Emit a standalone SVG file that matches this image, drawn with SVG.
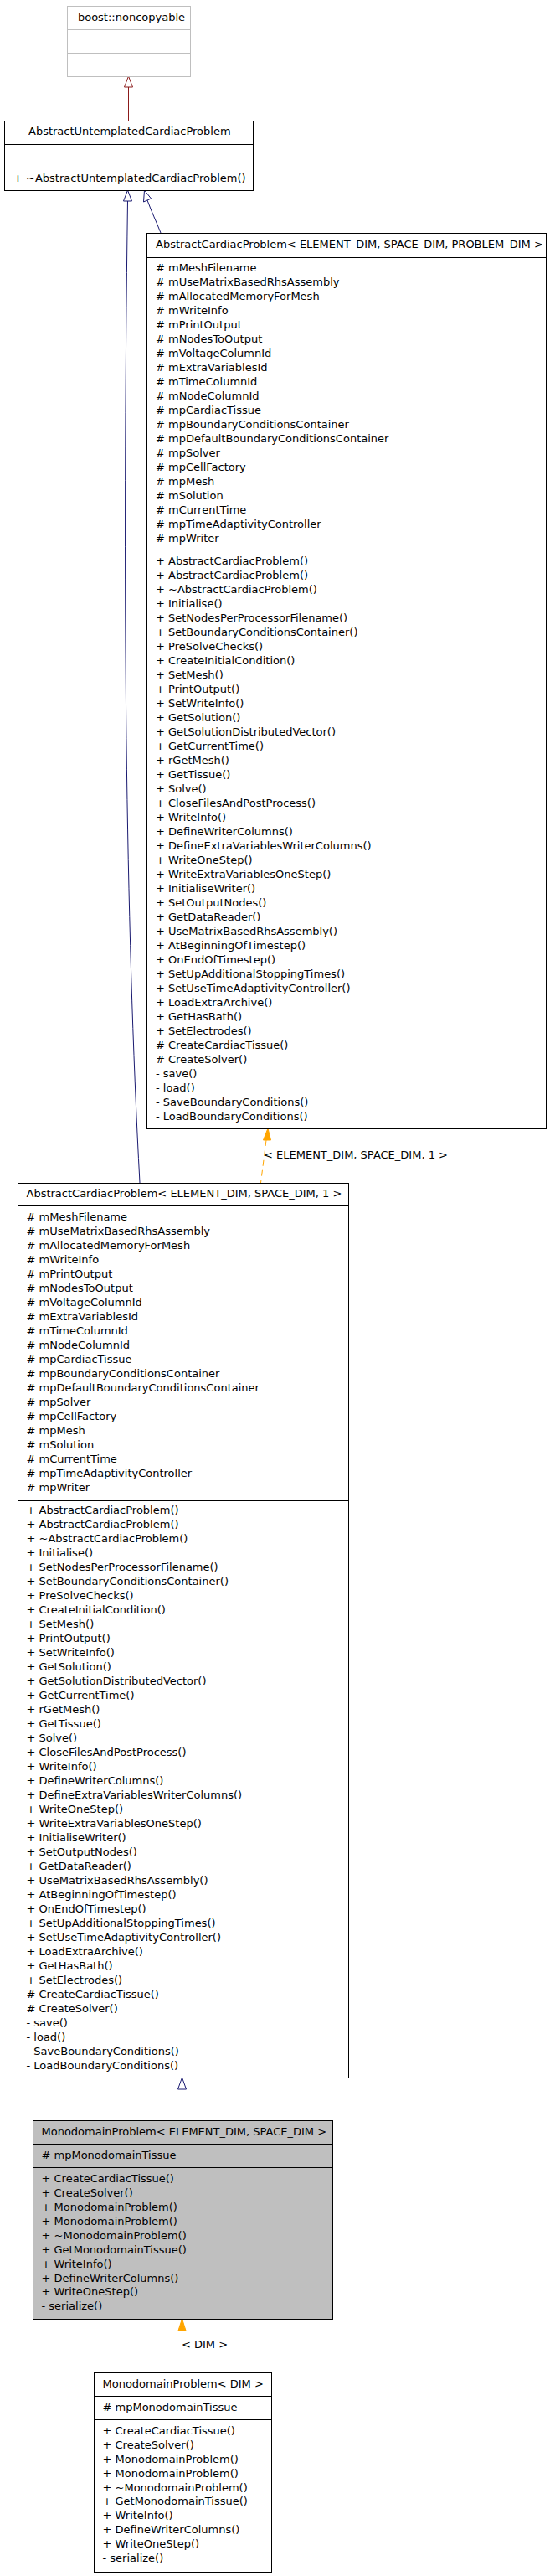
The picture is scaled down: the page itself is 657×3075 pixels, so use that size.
<svg xmlns="http://www.w3.org/2000/svg" width="657" height="3075" viewBox="0 0 657 3075">
<style>
.box{fill:#ffffff;stroke:#000000;stroke-width:1}
.gray{fill:#ffffff;stroke:#bfbfbf;stroke-width:1}
.filled{fill:#bfbfbf;stroke:#000000;stroke-width:1}
.sep{stroke:#000000;stroke-width:1}
.sepg{stroke:#bfbfbf;stroke-width:1}
text{font-family:"DejaVu Sans","Liberation Sans",sans-serif;font-size:13px;fill:#000000}
.blue{fill:none;stroke:#191970;stroke-width:1}
.red{fill:none;stroke:#8b1a1a;stroke-width:1}
.orange{fill:none;stroke:#ffa500;stroke-width:1;stroke-dasharray:7,5}
.headblue{fill:#ffffff;stroke:#191970;stroke-width:1}
.headred{fill:#ffffff;stroke:#8b1a1a;stroke-width:1}
.headorange{fill:#ffa500;stroke:#ffa500;stroke-width:1}
</style>
<rect x="0" y="0" width="657" height="3075" fill="#ffffff"/>

<g id="connectors">
  <path class="red" d="M153.5,104 L153.5,144"/>
  <polygon class="headred" points="153.5,91 148.5,104 158.5,104"/>

  <path class="blue" d="M152.5,240 C146,700 150,1100 167,1412"/>
  <polygon class="headblue" points="152.5,227 147.5,240 157.5,240"/>

  <path class="blue" d="M176,239 C181,253 187,265 192,278"/>
  <polygon class="headblue" points="172.5,227 171.5,241 180.5,237"/>

  <path class="orange" d="M318,1361 L311.5,1412"/>
  <polygon class="headorange" points="320,1347 314.5,1361 323.5,1361"/>
  <text x="315" y="1383">&lt; ELEMENT_DIM, SPACE_DIM, 1 &gt;</text>

  <path class="blue" d="M217.5,2494 L217.5,2531"/>
  <polygon class="headblue" points="217.5,2480 212.5,2494 222.5,2494"/>

  <path class="orange" d="M217.5,2782 L217.5,2832"/>
  <polygon class="headorange" points="217.5,2768 213,2782 222,2782"/>
  <text x="217" y="2803">&lt; DIM &gt;</text>
</g>

<g id="node_noncopyable">
  <rect class="gray" x="80.5" y="7.5" width="147" height="84"/>
  <line class="sepg" x1="80.5" y1="35.5" x2="227.5" y2="35.5"/>
  <line class="sepg" x1="80.5" y1="63.5" x2="227.5" y2="63.5"/>
  <text x="157" y="25" text-anchor="middle">boost::noncopyable</text>
</g>

<g id="node_untemplated">
  <rect class="box" x="5.5" y="144.5" width="297" height="83"/>
  <line class="sep" x1="5.5" y1="172.5" x2="302.5" y2="172.5"/>
  <line class="sep" x1="5.5" y1="200.5" x2="302.5" y2="200.5"/>
  <text x="34" y="161">AbstractUntemplatedCardiacProblem</text>
  <text x="16" y="216.5">+ ~AbstractUntemplatedCardiacProblem()</text>
</g>

<g id="node_acp_problem_dim">
  <rect class="box" x="175.5" y="278.5" width="477" height="1069"/>
  <line class="sep" x1="175.5" y1="307.5" x2="652.5" y2="307.5"/>
  <line class="sep" x1="175.5" y1="656.5" x2="652.5" y2="656.5"/>
  <text x="186" y="296">AbstractCardiacProblem&lt; ELEMENT_DIM, SPACE_DIM, PROBLEM_DIM &gt;</text>
  <text y="323.5">
    <tspan x="186">#&#160;mMeshFilename</tspan>
    <tspan x="186" dy="17">#&#160;mUseMatrixBasedRhsAssembly</tspan>
    <tspan x="186" dy="17">#&#160;mAllocatedMemoryForMesh</tspan>
    <tspan x="186" dy="17">#&#160;mWriteInfo</tspan>
    <tspan x="186" dy="17">#&#160;mPrintOutput</tspan>
    <tspan x="186" dy="17">#&#160;mNodesToOutput</tspan>
    <tspan x="186" dy="17">#&#160;mVoltageColumnId</tspan>
    <tspan x="186" dy="17">#&#160;mExtraVariablesId</tspan>
    <tspan x="186" dy="17">#&#160;mTimeColumnId</tspan>
    <tspan x="186" dy="17">#&#160;mNodeColumnId</tspan>
    <tspan x="186" dy="17">#&#160;mpCardiacTissue</tspan>
    <tspan x="186" dy="17">#&#160;mpBoundaryConditionsContainer</tspan>
    <tspan x="186" dy="17">#&#160;mpDefaultBoundaryConditionsContainer</tspan>
    <tspan x="186" dy="17">#&#160;mpSolver</tspan>
    <tspan x="186" dy="17">#&#160;mpCellFactory</tspan>
    <tspan x="186" dy="17">#&#160;mpMesh</tspan>
    <tspan x="186" dy="17">#&#160;mSolution</tspan>
    <tspan x="186" dy="17">#&#160;mCurrentTime</tspan>
    <tspan x="186" dy="17">#&#160;mpTimeAdaptivityController</tspan>
    <tspan x="186" dy="17">#&#160;mpWriter</tspan>
  </text>
  <text y="674">
    <tspan x="186">+&#160;AbstractCardiacProblem()</tspan>
    <tspan x="186" dy="17">+&#160;AbstractCardiacProblem()</tspan>
    <tspan x="186" dy="17">+&#160;~AbstractCardiacProblem()</tspan>
    <tspan x="186" dy="17">+&#160;Initialise()</tspan>
    <tspan x="186" dy="17">+&#160;SetNodesPerProcessorFilename()</tspan>
    <tspan x="186" dy="17">+&#160;SetBoundaryConditionsContainer()</tspan>
    <tspan x="186" dy="17">+&#160;PreSolveChecks()</tspan>
    <tspan x="186" dy="17">+&#160;CreateInitialCondition()</tspan>
    <tspan x="186" dy="17">+&#160;SetMesh()</tspan>
    <tspan x="186" dy="17">+&#160;PrintOutput()</tspan>
    <tspan x="186" dy="17">+&#160;SetWriteInfo()</tspan>
    <tspan x="186" dy="17">+&#160;GetSolution()</tspan>
    <tspan x="186" dy="17">+&#160;GetSolutionDistributedVector()</tspan>
    <tspan x="186" dy="17">+&#160;GetCurrentTime()</tspan>
    <tspan x="186" dy="17">+&#160;rGetMesh()</tspan>
    <tspan x="186" dy="17">+&#160;GetTissue()</tspan>
    <tspan x="186" dy="17">+&#160;Solve()</tspan>
    <tspan x="186" dy="17">+&#160;CloseFilesAndPostProcess()</tspan>
    <tspan x="186" dy="17">+&#160;WriteInfo()</tspan>
    <tspan x="186" dy="17">+&#160;DefineWriterColumns()</tspan>
    <tspan x="186" dy="17">+&#160;DefineExtraVariablesWriterColumns()</tspan>
    <tspan x="186" dy="17">+&#160;WriteOneStep()</tspan>
    <tspan x="186" dy="17">+&#160;WriteExtraVariablesOneStep()</tspan>
    <tspan x="186" dy="17">+&#160;InitialiseWriter()</tspan>
    <tspan x="186" dy="17">+&#160;SetOutputNodes()</tspan>
    <tspan x="186" dy="17">+&#160;GetDataReader()</tspan>
    <tspan x="186" dy="17">+&#160;UseMatrixBasedRhsAssembly()</tspan>
    <tspan x="186" dy="17">+&#160;AtBeginningOfTimestep()</tspan>
    <tspan x="186" dy="17">+&#160;OnEndOfTimestep()</tspan>
    <tspan x="186" dy="17">+&#160;SetUpAdditionalStoppingTimes()</tspan>
    <tspan x="186" dy="17">+&#160;SetUseTimeAdaptivityController()</tspan>
    <tspan x="186" dy="17">+&#160;LoadExtraArchive()</tspan>
    <tspan x="186" dy="17">+&#160;GetHasBath()</tspan>
    <tspan x="186" dy="17">+&#160;SetElectrodes()</tspan>
    <tspan x="186" dy="17">#&#160;CreateCardiacTissue()</tspan>
    <tspan x="186" dy="17">#&#160;CreateSolver()</tspan>
    <tspan x="186" dy="17">-&#160;save()</tspan>
    <tspan x="186" dy="17">-&#160;load()</tspan>
    <tspan x="186" dy="17">-&#160;SaveBoundaryConditions()</tspan>
    <tspan x="186" dy="17">-&#160;LoadBoundaryConditions()</tspan>
  </text>
</g>

<g id="node_acp_1">
  <rect class="box" x="21.5" y="1412.5" width="395" height="1068"/>
  <line class="sep" x1="21.5" y1="1439.5" x2="416.5" y2="1439.5"/>
  <line class="sep" x1="21.5" y1="1791.5" x2="416.5" y2="1791.5"/>
  <text x="31.5" y="1428.5">AbstractCardiacProblem&lt; ELEMENT_DIM, SPACE_DIM, 1 &gt;</text>
  <text y="1456.8">
    <tspan x="31.5">#&#160;mMeshFilename</tspan>
    <tspan x="31.5" dy="17">#&#160;mUseMatrixBasedRhsAssembly</tspan>
    <tspan x="31.5" dy="17">#&#160;mAllocatedMemoryForMesh</tspan>
    <tspan x="31.5" dy="17">#&#160;mWriteInfo</tspan>
    <tspan x="31.5" dy="17">#&#160;mPrintOutput</tspan>
    <tspan x="31.5" dy="17">#&#160;mNodesToOutput</tspan>
    <tspan x="31.5" dy="17">#&#160;mVoltageColumnId</tspan>
    <tspan x="31.5" dy="17">#&#160;mExtraVariablesId</tspan>
    <tspan x="31.5" dy="17">#&#160;mTimeColumnId</tspan>
    <tspan x="31.5" dy="17">#&#160;mNodeColumnId</tspan>
    <tspan x="31.5" dy="17">#&#160;mpCardiacTissue</tspan>
    <tspan x="31.5" dy="17">#&#160;mpBoundaryConditionsContainer</tspan>
    <tspan x="31.5" dy="17">#&#160;mpDefaultBoundaryConditionsContainer</tspan>
    <tspan x="31.5" dy="17">#&#160;mpSolver</tspan>
    <tspan x="31.5" dy="17">#&#160;mpCellFactory</tspan>
    <tspan x="31.5" dy="17">#&#160;mpMesh</tspan>
    <tspan x="31.5" dy="17">#&#160;mSolution</tspan>
    <tspan x="31.5" dy="17">#&#160;mCurrentTime</tspan>
    <tspan x="31.5" dy="17">#&#160;mpTimeAdaptivityController</tspan>
    <tspan x="31.5" dy="17">#&#160;mpWriter</tspan>
  </text>
  <text y="1806.8">
    <tspan x="31.5">+&#160;AbstractCardiacProblem()</tspan>
    <tspan x="31.5" dy="17">+&#160;AbstractCardiacProblem()</tspan>
    <tspan x="31.5" dy="17">+&#160;~AbstractCardiacProblem()</tspan>
    <tspan x="31.5" dy="17">+&#160;Initialise()</tspan>
    <tspan x="31.5" dy="17">+&#160;SetNodesPerProcessorFilename()</tspan>
    <tspan x="31.5" dy="17">+&#160;SetBoundaryConditionsContainer()</tspan>
    <tspan x="31.5" dy="17">+&#160;PreSolveChecks()</tspan>
    <tspan x="31.5" dy="17">+&#160;CreateInitialCondition()</tspan>
    <tspan x="31.5" dy="17">+&#160;SetMesh()</tspan>
    <tspan x="31.5" dy="17">+&#160;PrintOutput()</tspan>
    <tspan x="31.5" dy="17">+&#160;SetWriteInfo()</tspan>
    <tspan x="31.5" dy="17">+&#160;GetSolution()</tspan>
    <tspan x="31.5" dy="17">+&#160;GetSolutionDistributedVector()</tspan>
    <tspan x="31.5" dy="17">+&#160;GetCurrentTime()</tspan>
    <tspan x="31.5" dy="17">+&#160;rGetMesh()</tspan>
    <tspan x="31.5" dy="17">+&#160;GetTissue()</tspan>
    <tspan x="31.5" dy="17">+&#160;Solve()</tspan>
    <tspan x="31.5" dy="17">+&#160;CloseFilesAndPostProcess()</tspan>
    <tspan x="31.5" dy="17">+&#160;WriteInfo()</tspan>
    <tspan x="31.5" dy="17">+&#160;DefineWriterColumns()</tspan>
    <tspan x="31.5" dy="17">+&#160;DefineExtraVariablesWriterColumns()</tspan>
    <tspan x="31.5" dy="17">+&#160;WriteOneStep()</tspan>
    <tspan x="31.5" dy="17">+&#160;WriteExtraVariablesOneStep()</tspan>
    <tspan x="31.5" dy="17">+&#160;InitialiseWriter()</tspan>
    <tspan x="31.5" dy="17">+&#160;SetOutputNodes()</tspan>
    <tspan x="31.5" dy="17">+&#160;GetDataReader()</tspan>
    <tspan x="31.5" dy="17">+&#160;UseMatrixBasedRhsAssembly()</tspan>
    <tspan x="31.5" dy="17">+&#160;AtBeginningOfTimestep()</tspan>
    <tspan x="31.5" dy="17">+&#160;OnEndOfTimestep()</tspan>
    <tspan x="31.5" dy="17">+&#160;SetUpAdditionalStoppingTimes()</tspan>
    <tspan x="31.5" dy="17">+&#160;SetUseTimeAdaptivityController()</tspan>
    <tspan x="31.5" dy="17">+&#160;LoadExtraArchive()</tspan>
    <tspan x="31.5" dy="17">+&#160;GetHasBath()</tspan>
    <tspan x="31.5" dy="17">+&#160;SetElectrodes()</tspan>
    <tspan x="31.5" dy="17">#&#160;CreateCardiacTissue()</tspan>
    <tspan x="31.5" dy="17">#&#160;CreateSolver()</tspan>
    <tspan x="31.5" dy="17">-&#160;save()</tspan>
    <tspan x="31.5" dy="17">-&#160;load()</tspan>
    <tspan x="31.5" dy="17">-&#160;SaveBoundaryConditions()</tspan>
    <tspan x="31.5" dy="17">-&#160;LoadBoundaryConditions()</tspan>
  </text>
</g>

<g id="node_monodomain_elem_space">
  <rect class="filled" x="39.5" y="2531.5" width="358" height="237"/>
  <line class="sep" x1="39.5" y1="2559.5" x2="397.5" y2="2559.5"/>
  <line class="sep" x1="39.5" y1="2587.5" x2="397.5" y2="2587.5"/>
  <text x="49.5" y="2548.5">MonodomainProblem&lt; ELEMENT_DIM, SPACE_DIM &gt;</text>
  <text x="49.5" y="2576.5">#&#160;mpMonodomainTissue</text>
  <text y="2605.2">
    <tspan x="49.5">+&#160;CreateCardiacTissue()</tspan>
    <tspan x="49.5" dy="16.9">+&#160;CreateSolver()</tspan>
    <tspan x="49.5" dy="16.9">+&#160;MonodomainProblem()</tspan>
    <tspan x="49.5" dy="16.9">+&#160;MonodomainProblem()</tspan>
    <tspan x="49.5" dy="16.9">+&#160;~MonodomainProblem()</tspan>
    <tspan x="49.5" dy="16.9">+&#160;GetMonodomainTissue()</tspan>
    <tspan x="49.5" dy="16.9">+&#160;WriteInfo()</tspan>
    <tspan x="49.5" dy="16.9">+&#160;DefineWriterColumns()</tspan>
    <tspan x="49.5" dy="16.9">+&#160;WriteOneStep()</tspan>
    <tspan x="49.5" dy="16.9">-&#160;serialize()</tspan>
  </text>
</g>

<g id="node_monodomain_dim">
  <rect class="box" x="112.5" y="2832.5" width="212" height="238"/>
  <line class="sep" x1="112.5" y1="2860.5" x2="324.5" y2="2860.5"/>
  <line class="sep" x1="112.5" y1="2888.5" x2="324.5" y2="2888.5"/>
  <text x="122.5" y="2850">MonodomainProblem&lt; DIM &gt;</text>
  <text x="122.5" y="2877.5">#&#160;mpMonodomainTissue</text>
  <text y="2906.2">
    <tspan x="122.5">+&#160;CreateCardiacTissue()</tspan>
    <tspan x="122.5" dy="16.85">+&#160;CreateSolver()</tspan>
    <tspan x="122.5" dy="16.85">+&#160;MonodomainProblem()</tspan>
    <tspan x="122.5" dy="16.85">+&#160;MonodomainProblem()</tspan>
    <tspan x="122.5" dy="16.85">+&#160;~MonodomainProblem()</tspan>
    <tspan x="122.5" dy="16.85">+&#160;GetMonodomainTissue()</tspan>
    <tspan x="122.5" dy="16.85">+&#160;WriteInfo()</tspan>
    <tspan x="122.5" dy="16.85">+&#160;DefineWriterColumns()</tspan>
    <tspan x="122.5" dy="16.85">+&#160;WriteOneStep()</tspan>
    <tspan x="122.5" dy="16.85">-&#160;serialize()</tspan>
  </text>
</g>
</svg>
